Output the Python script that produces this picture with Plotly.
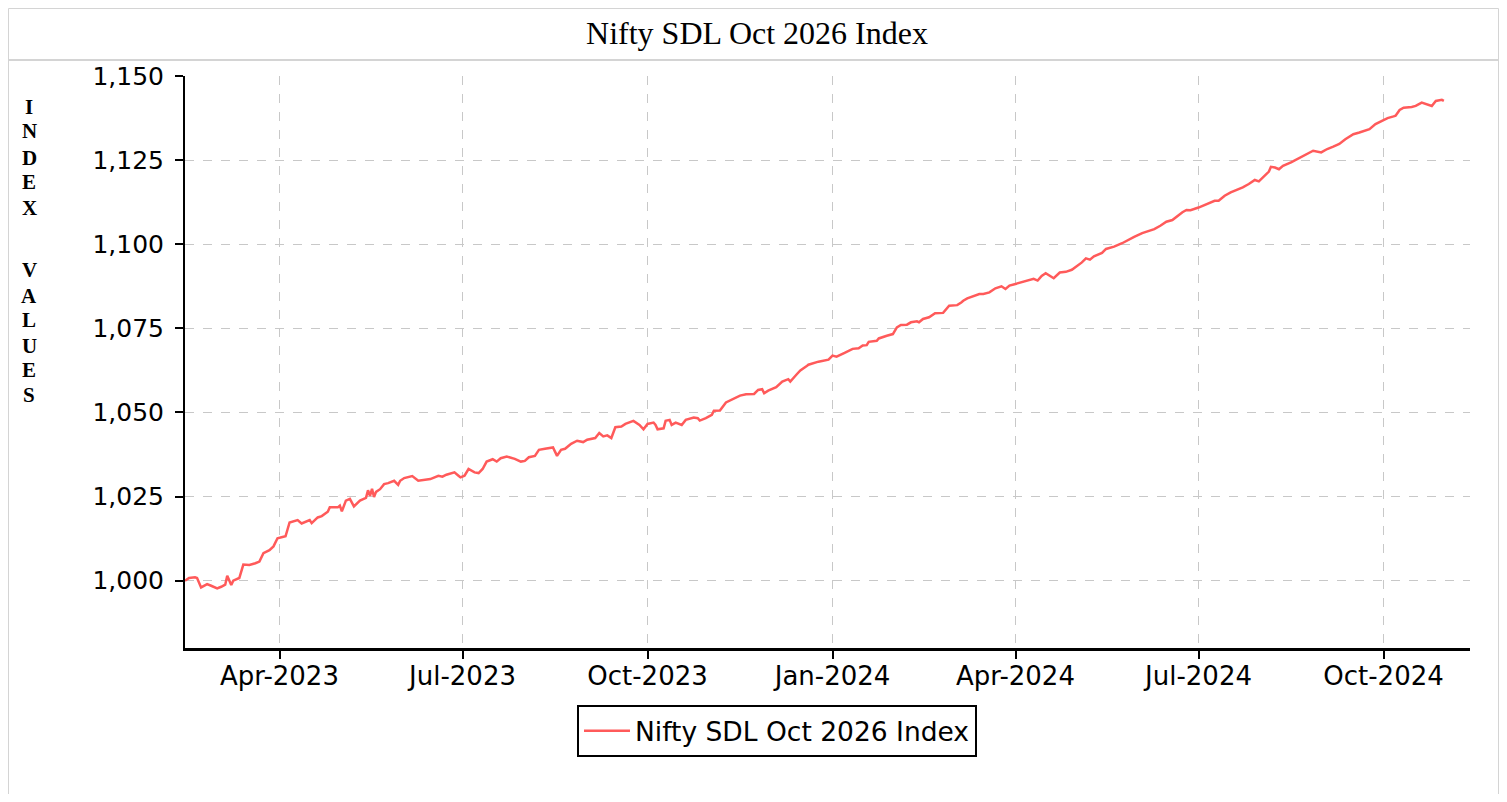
import plotly.graph_objects as go

dates = [
    "2023-02-13", "2023-02-15", "2023-02-18", "2023-02-19", "2023-02-21", "2023-02-24", "2023-02-26",
    "2023-03-01", "2023-03-03", "2023-03-05", "2023-03-06", "2023-03-08", "2023-03-09", "2023-03-12",
    "2023-03-14", "2023-03-17", "2023-03-20", "2023-03-22", "2023-03-24", "2023-03-27", "2023-03-29",
    "2023-03-31", "2023-04-02", "2023-04-04", "2023-04-06", "2023-04-10", "2023-04-12", "2023-04-15",
    "2023-04-16", "2023-04-17", "2023-04-20", "2023-04-22", "2023-04-25", "2023-04-26", "2023-04-30",
    "2023-05-01", "2023-05-02", "2023-05-04", "2023-05-06", "2023-05-08", "2023-05-11", "2023-05-14",
    "2023-05-15", "2023-05-16", "2023-05-17", "2023-05-18", "2023-05-19", "2023-05-21", "2023-05-23",
    "2023-05-25", "2023-05-28", "2023-05-30", "2023-05-31", "2023-06-02", "2023-06-06", "2023-06-09",
    "2023-06-12", "2023-06-15", "2023-06-19", "2023-06-21", "2023-06-23", "2023-06-27", "2023-06-29",
    "2023-06-30", "2023-07-02", "2023-07-04", "2023-07-07", "2023-07-09", "2023-07-11", "2023-07-13",
    "2023-07-16", "2023-07-18", "2023-07-20", "2023-07-23", "2023-07-27", "2023-07-30", "2023-08-01",
    "2023-08-03", "2023-08-06", "2023-08-08", "2023-08-11", "2023-08-15", "2023-08-17", "2023-08-19",
    "2023-08-21", "2023-08-24", "2023-08-27", "2023-08-30", "2023-09-01", "2023-09-05", "2023-09-07",
    "2023-09-09", "2023-09-11", "2023-09-13", "2023-09-15", "2023-09-18", "2023-09-20", "2023-09-24",
    "2023-09-27", "2023-09-29", "2023-10-01", "2023-10-04", "2023-10-05", "2023-10-06", "2023-10-09",
    "2023-10-10", "2023-10-12", "2023-10-13", "2023-10-15", "2023-10-18", "2023-10-20", "2023-10-24",
    "2023-10-26", "2023-10-27", "2023-10-30", "2023-11-02", "2023-11-03", "2023-11-06", "2023-11-09",
    "2023-11-12", "2023-11-16", "2023-11-19", "2023-11-23", "2023-11-25", "2023-11-27", "2023-11-28",
    "2023-11-30", "2023-12-04", "2023-12-07", "2023-12-10", "2023-12-11", "2023-12-14", "2023-12-16",
    "2023-12-19", "2023-12-20", "2023-12-25", "2023-12-28", "2023-12-30", "2024-01-01", "2024-01-03",
    "2024-01-07", "2024-01-11", "2024-01-14", "2024-01-16", "2024-01-18", "2024-01-19", "2024-01-23",
    "2024-01-24", "2024-01-28", "2024-01-31", "2024-02-02", "2024-02-04", "2024-02-07", "2024-02-09",
    "2024-02-12", "2024-02-13", "2024-02-15", "2024-02-18", "2024-02-21", "2024-02-25", "2024-02-28",
    "2024-03-03", "2024-03-05", "2024-03-06", "2024-03-08", "2024-03-11", "2024-03-14", "2024-03-16",
    "2024-03-19", "2024-03-22", "2024-03-25", "2024-03-27", "2024-03-29", "2024-04-01", "2024-04-05",
    "2024-04-07", "2024-04-10", "2024-04-12", "2024-04-14", "2024-04-16", "2024-04-20", "2024-04-23",
    "2024-04-26", "2024-04-29", "2024-05-02", "2024-05-04", "2024-05-06", "2024-05-08", "2024-05-10",
    "2024-05-14", "2024-05-16", "2024-05-20", "2024-05-24", "2024-05-27", "2024-05-30", "2024-06-03",
    "2024-06-09", "2024-06-12", "2024-06-15", "2024-06-18", "2024-06-21", "2024-06-23", "2024-06-25",
    "2024-06-27", "2024-07-01", "2024-07-04", "2024-07-06", "2024-07-09", "2024-07-11", "2024-07-14",
    "2024-07-17", "2024-07-20", "2024-07-23", "2024-07-26", "2024-07-29", "2024-07-31", "2024-08-02",
    "2024-08-05", "2024-08-06", "2024-08-08", "2024-08-10", "2024-08-12", "2024-08-16", "2024-08-19",
    "2024-08-22", "2024-08-27", "2024-08-31", "2024-09-03", "2024-09-06", "2024-09-09", "2024-09-12",
    "2024-09-16", "2024-09-19", "2024-09-22", "2024-09-24", "2024-09-27", "2024-10-01", "2024-10-03",
    "2024-10-06", "2024-10-07", "2024-10-09", "2024-10-11", "2024-10-15", "2024-10-17", "2024-10-20",
    "2024-10-23", "2024-10-25", "2024-10-27", "2024-10-30", "2024-10-31",
]

index_values = [
    1000.0, 1000.8, 1001.0, 1000.8, 998.0, 999.0, 998.5,
    997.7, 998.2, 998.8, 1001.5, 998.7, 1000.0, 1000.8,
    1004.8, 1004.7, 1005.2, 1005.7, 1008.2, 1009.1, 1010.2,
    1012.6, 1012.9, 1013.2, 1017.3, 1018.0, 1017.0, 1017.8,
    1018.0, 1017.1, 1018.8, 1019.2, 1020.5, 1021.8, 1021.8,
    1022.3, 1020.6, 1023.8, 1024.3, 1022.1, 1023.8, 1024.6,
    1026.9, 1025.2, 1027.3, 1024.9, 1026.4, 1027.2, 1028.7,
    1029.0, 1029.7, 1028.5, 1029.7, 1030.5, 1031.1, 1029.7,
    1029.9, 1030.2, 1031.2, 1030.9, 1031.5, 1032.2, 1031.2,
    1030.7, 1031.2, 1033.2, 1032.2, 1032.0, 1033.2, 1035.4,
    1036.1, 1035.4, 1036.4, 1036.9, 1036.2, 1035.4, 1035.6,
    1036.7, 1037.1, 1038.9, 1039.2, 1039.6, 1037.1, 1038.9,
    1039.2, 1040.7, 1041.6, 1041.2, 1041.9, 1042.4, 1043.9,
    1042.9, 1043.2, 1042.4, 1045.6, 1045.8, 1046.6, 1047.5,
    1046.3, 1045.0, 1046.6, 1047.0, 1046.3, 1045.0, 1045.3,
    1047.5, 1047.8, 1046.3, 1047.0, 1046.3, 1047.8, 1048.5,
    1048.3, 1047.6, 1048.3, 1049.3, 1050.5, 1050.6, 1053.0,
    1053.8, 1055.0, 1055.4, 1055.5, 1056.7, 1056.9, 1055.7,
    1056.5, 1057.5, 1059.2, 1059.9, 1059.2, 1061.2, 1062.5,
    1063.7, 1064.2, 1065.1, 1065.4, 1065.7, 1066.9, 1066.6,
    1067.7, 1068.9, 1069.1, 1069.9, 1070.0, 1071.0, 1071.3,
    1072.0, 1072.8, 1073.3, 1075.3, 1076.0, 1076.1, 1076.8,
    1077.1, 1076.8, 1077.8, 1078.3, 1079.5, 1079.6, 1081.7,
    1081.9, 1082.7, 1083.2, 1083.9, 1084.5, 1085.2, 1085.2,
    1085.7, 1086.9, 1087.5, 1086.7, 1087.7, 1088.2, 1088.9,
    1089.4, 1089.7, 1089.2, 1090.6, 1091.4, 1089.9, 1091.6,
    1091.8, 1092.4, 1093.6, 1094.6, 1095.8, 1095.4, 1096.4,
    1097.4, 1098.6, 1099.3, 1100.3, 1101.3, 1102.2, 1103.3,
    1104.5, 1105.5, 1106.7, 1107.2, 1108.7, 1109.5, 1110.2,
    1110.1, 1110.9, 1111.7, 1112.1, 1112.9, 1112.9, 1114.4,
    1115.4, 1116.1, 1116.9, 1117.9, 1119.1, 1118.7, 1119.9,
    1121.6, 1123.0, 1122.8, 1122.3, 1123.3, 1124.3, 1125.3,
    1126.3, 1127.8, 1127.3, 1128.3, 1129.0, 1129.8, 1131.2,
    1132.7, 1133.2, 1133.7, 1134.2, 1135.7, 1136.9, 1137.5,
    1138.0, 1138.2, 1139.9, 1140.6, 1140.8, 1141.1, 1142.1,
    1141.6, 1141.1, 1142.6, 1142.9, 1142.6,
]

series_name = "Nifty SDL Oct 2026 Index"
chart_title = "Nifty SDL Oct 2026 Index"
y_axis_title = "INDEX VALUES"
y_ticks = [1000, 1025, 1050, 1075, 1100, 1125, 1150]
x_ticks = ["2023-04-01", "2023-07-01", "2023-10-01", "2024-01-01",
           "2024-04-01", "2024-07-01", "2024-10-01"]

# figure coordinates (page is offset by the 8px body margin)
W, H = 1491, 786
L, R, T, B = 177, 1462, 68, 640


def px(x):
    return (x - L) / (R - L)


def py(y):
    return (B - y) / (B - T)


fig = go.Figure()
fig.add_trace(go.Scatter(
    x=dates, y=index_values, mode="lines", name=series_name,
    line=dict(color="#ff5a5a", width=2.5),
    showlegend=True,
))

ytick_font = dict(family="DejaVu Sans", size=25, color="#000")
xtick_font = dict(family="DejaVu Sans", size=26, color="#000")
border = "#d4d4d4"

# vertical, letter-by-letter axis title
letter_y = [99, 123, 150, 174, 200, None, 262, 288, 312, 338, 362, 387]
annotations = []
for ch, yy in zip(y_axis_title, letter_y):
    if ch == " " or yy is None:
        continue
    annotations.append(dict(
        text=ch, xref="paper", yref="paper", x=px(21), y=py(yy),
        xanchor="center", yanchor="middle", showarrow=False,
        font=dict(family="Liberation Serif", size=21, color="#000", weight="bold"),
    ))

fig.update_layout(
    width=W, height=H,
    margin=dict(l=L, r=W - R, t=T, b=H - B, pad=0),
    paper_bgcolor="white", plot_bgcolor="white",
    title=dict(text=chart_title, x=749 / W, xref="container", xanchor="center",
               y=1 - 25 / H, yref="container", yanchor="middle",
               font=dict(family="Liberation Serif", size=32, color="#000")),
    showlegend=True,
    legend=dict(
        orientation="h", x=px(569), xanchor="left", y=py(697), yanchor="top",
        bordercolor="#000", borderwidth=2, bgcolor="white",
        itemwidth=46,
        font=dict(family="DejaVu Sans", size=26.5, color="#000"),
    ),
    xaxis=dict(
        type="date", range=["2023-02-13", "2024-11-13"],
        tickvals=x_ticks, tickformat="%b-%Y",
        showgrid=True, gridcolor="#c8c8c8", griddash="dash", gridwidth=1,
        showline=True, linecolor="#000", linewidth=3,
        ticks="outside", ticklen=8, tickwidth=2, tickcolor="#000",
        tickfont=xtick_font, zeroline=False, ticklabelstandoff=-5,
    ),
    yaxis=dict(
        range=[980, 1150], tickvals=y_ticks, tickformat=",",
        showgrid=True, gridcolor="#c8c8c8", griddash="dash", gridwidth=1,
        showline=True, linecolor="#000", linewidth=2,
        ticks="outside", ticklen=8, tickwidth=2, tickcolor="#000",
        tickfont=ytick_font, zeroline=False, ticklabelstandoff=6,
    ),
    shapes=[
        dict(type="line", xref="paper", yref="paper",
             x0=px(0.5), x1=px(W - 0.5), y0=py(0.5), y1=py(0.5),
             line=dict(color=border, width=1)),
        dict(type="line", xref="paper", yref="paper",
             x0=px(0.5), x1=px(0.5), y0=py(0.5), y1=py(H + 5),
             line=dict(color=border, width=1)),
        dict(type="line", xref="paper", yref="paper",
             x0=px(W - 0.5), x1=px(W - 0.5), y0=py(0.5), y1=py(H + 5),
             line=dict(color=border, width=1)),
        dict(type="line", xref="paper", yref="paper",
             x0=px(0.5), x1=px(W - 0.5), y0=py(52), y1=py(52),
             line=dict(color=border, width=2)),
    ],
    annotations=annotations,
)

fig.write_html("out.html")
